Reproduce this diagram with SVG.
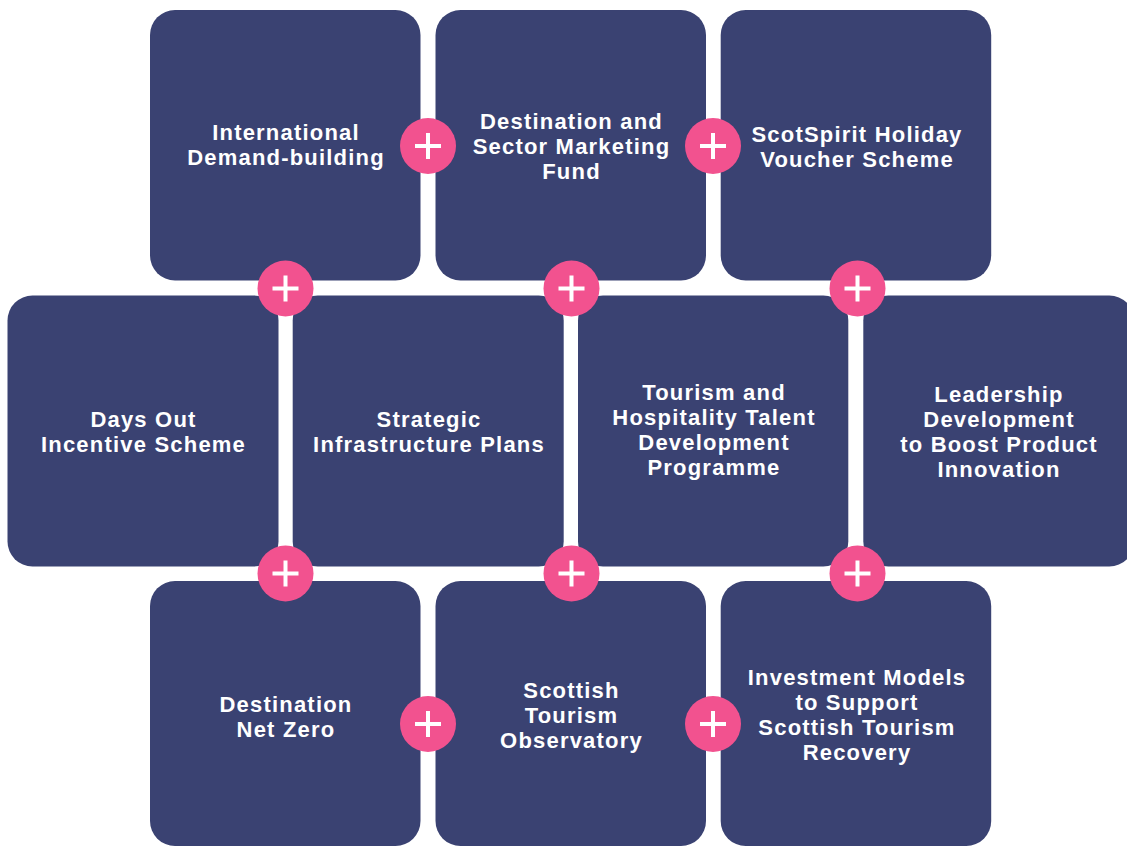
<svg xmlns="http://www.w3.org/2000/svg" width="1127" height="846" viewBox="0 0 1127 846">
<style>
.box{fill:#3a4272}
.t{font-family:"Liberation Sans",Arial,sans-serif;font-weight:bold;font-size:22px;fill:#ffffff;text-anchor:middle;letter-spacing:1.2px}
.pc{fill:#f2528f}
.pl{stroke:#ffffff;stroke-width:4;fill:none}
</style>
<defs>
<g id="plus"><circle class="pc" r="28"/><path class="pl" d="M-13 0H13M0-13V13"/></g>
</defs>
<rect width="1127" height="846" fill="#ffffff"/>
<g id="n1"><rect class="box" x="150" y="10" width="270.5" height="270.5" rx="25"/>
<text class="t" x="286" y="139.5">International</text><text class="t" x="286" y="164.5">Demand-building</text></g>
<g id="n2"><rect class="box" x="435.5" y="10" width="270.5" height="270.5" rx="25"/>
<text class="t" x="571.5" y="128.5">Destination and</text><text class="t" x="571.5" y="153.5">Sector Marketing</text><text class="t" x="571.5" y="178.5">Fund</text></g>
<g id="n3"><rect class="box" x="720.7" y="10" width="270.5" height="270.5" rx="25"/>
<text class="t" x="857" y="141.5">ScotSpirit Holiday</text><text class="t" x="857" y="166.5">Voucher Scheme</text></g>
<g id="n4"><rect class="box" x="7.5" y="295.5" width="271" height="271" rx="25"/>
<text class="t" x="143.5" y="426.5">Days Out</text><text class="t" x="143.5" y="451.5">Incentive Scheme</text></g>
<g id="n5"><rect class="box" x="292.7" y="295.5" width="271" height="271" rx="25"/>
<text class="t" x="429" y="426.5">Strategic</text><text class="t" x="429" y="451.5">Infrastructure Plans</text></g>
<g id="n6"><rect class="box" x="578" y="295.5" width="270.3" height="271" rx="25"/>
<text class="t" x="714" y="399.5">Tourism and</text><text class="t" x="714" y="424.5">Hospitality Talent</text><text class="t" x="714" y="449.5">Development</text><text class="t" x="714" y="474.5">Programme</text></g>
<g id="n7"><rect class="box" x="863.3" y="295.5" width="271" height="271" rx="25"/>
<text class="t" x="999" y="401.5">Leadership</text><text class="t" x="999" y="426.5">Development</text><text class="t" x="999" y="451.5">to Boost Product</text><text class="t" x="999" y="476.5">Innovation</text></g>
<g id="n8"><rect class="box" x="150" y="581" width="270.5" height="265" rx="25"/>
<text class="t" x="286" y="711.5">Destination</text><text class="t" x="286" y="736.5">Net Zero</text></g>
<g id="n9"><rect class="box" x="435.5" y="581" width="270.5" height="265" rx="25"/>
<text class="t" x="571.5" y="697.5">Scottish</text><text class="t" x="571.5" y="722.5">Tourism</text><text class="t" x="571.5" y="747.5">Observatory</text></g>
<g id="n10"><rect class="box" x="720.7" y="581" width="270.5" height="265" rx="25"/>
<text class="t" x="857" y="685">Investment Models</text><text class="t" x="857" y="710">to Support</text><text class="t" x="857" y="735">Scottish Tourism</text><text class="t" x="857" y="760">Recovery</text></g>
<g id="connectors">
<use href="#plus" x="428" y="146"/>
<use href="#plus" x="713" y="146"/>
<use href="#plus" x="285.5" y="288.5"/>
<use href="#plus" x="571.5" y="288.5"/>
<use href="#plus" x="857.5" y="288.5"/>
<use href="#plus" x="285.5" y="573.5"/>
<use href="#plus" x="571.5" y="573.5"/>
<use href="#plus" x="857.5" y="573.5"/>
<use href="#plus" x="428" y="724"/>
<use href="#plus" x="713" y="724"/>
</g>
</svg>
